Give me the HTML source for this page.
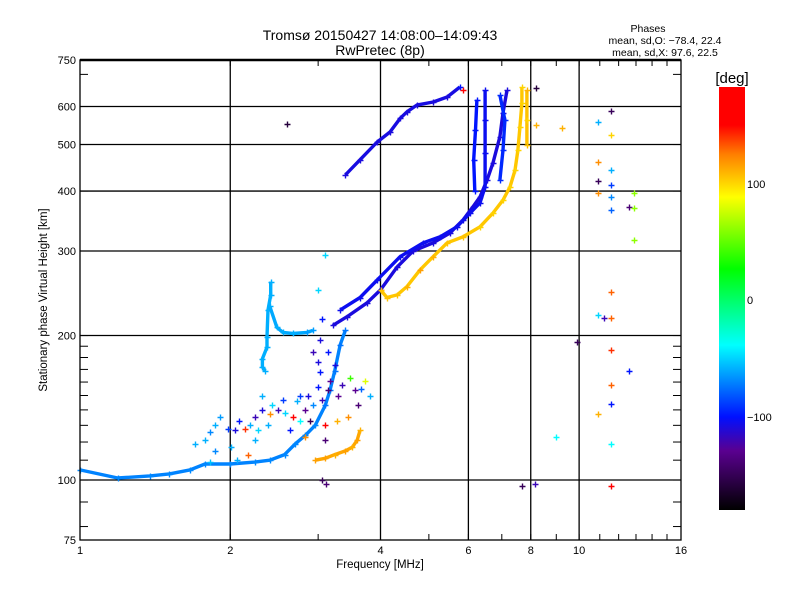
<!DOCTYPE html>
<html><head><meta charset="utf-8"><style>
body{margin:0;background:#fff;}
svg text{font-family:"Liberation Sans",sans-serif;fill:#000;}
</style></head><body>
<svg id="chart" width="800" height="600" viewBox="0 0 800 600" xmlns="http://www.w3.org/2000/svg">
<defs>
<linearGradient id="cbg" x1="0" y1="1" x2="0" y2="0">
<stop offset="0" stop-color="#000000"/>
<stop offset="0.14" stop-color="#5a0090"/>
<stop offset="0.22" stop-color="#0010ff"/>
<stop offset="0.30" stop-color="#0080ff"/>
<stop offset="0.39" stop-color="#00ffff"/>
<stop offset="0.48" stop-color="#00ff80"/>
<stop offset="0.57" stop-color="#00ff00"/>
<stop offset="0.74" stop-color="#ffff00"/>
<stop offset="0.84" stop-color="#ff8000"/>
<stop offset="0.91" stop-color="#ff0000"/>
<stop offset="1" stop-color="#ff0000"/>
</linearGradient>
</defs>
<rect width="800" height="600" fill="#fff"/>
<text x="380" y="40" font-size="14" text-anchor="middle">Tromsø 20150427 14:08:00–14:09:43</text>
<text x="380" y="55" font-size="14" text-anchor="middle">RwPretec (8p)</text>
<g font-size="10.5" text-anchor="middle">
<text x="648" y="32">Phases</text>
<text x="665" y="44">mean, sd,O: −78.4, 22.4</text>
<text x="665" y="56">mean, sd,X:  97.6, 22.5</text>
</g>
<g id="grid"></g>
<g id="marks"></g>
<g id="axes"></g>
<text x="380" y="568" font-size="11.5" text-anchor="middle">Frequency [MHz]</text>
<text transform="translate(47,300) rotate(-90)" font-size="11.5" text-anchor="middle">Stationary phase Virtual Height [km]</text>
<rect x="719" y="87" width="26" height="423" fill="url(#cbg)"/>
<text x="732" y="83" font-size="15" text-anchor="middle">[deg]</text>
<g font-size="11">
<text x="747" y="188">100</text>
<text x="747" y="304">0</text>
<text x="747" y="421">−100</text>
</g>
</svg>
<script>
const xTickVals=[1,2,4,6,8,10,16];
const xTickLabels=["1","2","4","6","8","10","16"];
const yTickVals=[75,100,200,300,400,500,600,750];
const yTickLabels=["75","100","200","300","400","500","600","750"];
const xGrid=[2,4,6,8,10];
const yGrid=[100,200,300,400,500,600];
// traces: [freq MHz, height km, phase deg]
const traceA=[[1.00,105,-70],[1.19,101,-70],[1.38,102,-70],[1.51,103,-70],[1.66,105,-70],[1.78,108,-70],[2.0,108,-70],[2.24,109,-70],[2.40,110,-70],[2.57,113,-70],[2.70,119,-70],[2.83,124,-70],[2.96,130,-70],[3.10,143,-75],[3.17,154,-75],[3.24,169,-75],[3.32,191,-75],[3.40,205,-75]];
const traceHorseshoeL=[[2.41,259,-60],[2.41,243,-60],[2.38,226,-60],[2.37,199,-60],[2.37,189,-60],[2.32,179,-60],[2.32,172,-60],[2.35,169,-60]];
const traceHorseshoeR=[[2.40,230,-60],[2.48,208,-60],[2.55,203,-60],[2.67,202,-60],[2.85,203,-65],[2.93,205,-65]];
const traceB=[[3.21,210,-110],[3.43,219,-110],[3.76,234,-110],[4.00,249,-110],[4.32,278,-110],[4.65,300,-110],[5.10,312,-110],[5.51,327,-110],[5.85,348,-110],[6.13,371,-110],[6.33,389,-110],[6.54,422,-110],[6.72,458,-110],[6.94,519,-110],[7.04,582,-110],[7.17,649,-110]];
const traceC=[[3.32,226,-105],[3.64,240,-105],[3.94,261,-105],[4.38,292,-105],[4.87,312,-105],[5.26,321,-105],[5.69,337,-105],[6.05,360,-105],[6.33,378,-105],[6.48,408,-105],[6.48,480,-105],[6.48,562,-105],[6.48,649,-105]];
const traceColA=[[6.18,400,-100],[6.15,465,-100],[6.2,536,-100],[6.24,620,-100]];
const traceColB=[[6.94,422,-95],[7.04,487,-95],[7.1,562,-95],[6.94,634,-95]];
const traceD=[[3.40,432,-110],[3.64,465,-110],[3.94,506,-110],[4.18,531,-110],[4.38,567,-110],[4.52,585,-110],[4.73,604,-110],[5.10,613,-110],[5.44,628,-110],[5.77,659,-100]];
const traceE=[[4.00,249,105],[4.12,240,105],[4.32,243,105],[4.52,253,110],[4.80,274,115],[5.10,292,110],[5.44,312,105],[5.85,321,105],[6.33,337,100],[6.72,360,100],[7.04,383,100],[7.27,408,100],[7.44,442,100],[7.54,487,100],[7.61,543,100],[7.68,610,100],[7.68,659,100]];
const traceEcol=[[7.86,649,110],[7.86,562,100],[7.86,500,105]];
const traceOrange=[[2.96,110,115],[3.10,111,115],[3.24,113,110],[3.40,115,115],[3.51,117,110],[3.59,121,115],[3.64,127,110]];
const scatterPts=[[1.70,119,-60],[1.78,121,-60],[1.82,126,-70],[1.86,130,-60],[1.91,135,-65],[1.98,128,-90],[2.04,127,-110],[2.08,133,-100],[2.19,130,-60],[2.24,135,-120],[2.27,127,-50],[2.32,140,-110],[2.38,130,-60],[2.42,143,-50],[2.49,140,-120],[2.55,147,-90],[2.57,138,-50],[2.63,127,-100],[2.67,135,150],[2.72,146,-60],[2.76,133,-40],[2.83,140,-130],[2.86,150,-110],[2.89,133,-150],[2.93,143,-70],[3.00,156,-100],[3.06,147,-120],[3.10,130,150],[3.14,154,-140],[3.17,161,-130],[3.24,174,-110],[3.29,150,-130],[3.35,158,-120],[3.47,163,40],[3.56,154,-130],[3.60,143,-140],[3.65,155,-80],[3.72,161,80],[3.81,150,-60],[3.44,135,120],[3.27,133,110],[2.76,150,-90],[2.40,137,120],[2.32,150,-60],[2.24,121,-60],[2.17,113,130],[2.01,117,-60],[1.86,115,-70],[1.82,109,-55],[2.06,110,-60],[3.00,176,-110],[3.03,196,-110],[3.06,216,-100],[3.00,249,-50],[3.10,294,-50],[2.93,185,-120],[3.03,168,-100],[3.14,185,-100],[3.10,121,-140],[3.06,100,-150],[2.14,128,140],[2.83,123,120],[9.26,541,110],[10.9,557,-60],[11.6,587,-150],[11.6,523,100],[10.9,460,120],[11.6,442,-60],[11.6,412,-90],[10.9,420,-150],[11.6,389,-70],[10.9,396,120],[12.9,396,60],[12.6,371,-140],[12.9,369,60],[11.6,366,-80],[12.9,316,60],[11.6,247,130],[10.9,221,-50],[11.2,218,-120],[11.6,218,130],[9.92,194,-150],[11.6,187,140],[12.6,169,-100],[11.6,158,130],[11.6,144,-100],[10.9,137,110],[9.0,123,-40],[11.6,119,-40],[11.6,97,160],[5.85,649,160],[8.21,655,-160],[8.21,550,110],[2.60,552,-160],[3.11,98,-140],[7.68,97,-150],[8.17,98,-120]];

const X0=80,X1=681,Y0=60,Y1=540;
function xs(f){return X0+(X1-X0)*Math.log(f)/Math.log(16);}
function ys(h){return Y1-(Y1-Y0)*Math.log10(h/75)/Math.log10(10);}
const cstops=[[0,[0,0,0]],[0.14,[90,0,144]],[0.22,[0,16,255]],[0.30,[0,128,255]],[0.39,[0,255,255]],[0.48,[0,255,128]],[0.57,[0,255,0]],[0.74,[255,255,0]],[0.84,[255,128,0]],[0.91,[255,0,0]],[1,[255,0,0]]];
function cmap(p){let t=(p+181)/363;t=Math.max(0,Math.min(1,t));
 for(let i=1;i<cstops.length;i++){if(t<=cstops[i][0]){const a=cstops[i-1],b=cstops[i];const u=(t-a[0])/(b[0]-a[0]||1);
 const c=a[1].map((v,k)=>Math.round(v+(b[1][k]-v)*u));return `rgb(${c[0]},${c[1]},${c[2]})`;}}return "rgb(255,0,0)";}
const NS="http://www.w3.org/2000/svg";
function mk(tag,attrs,parent){const e=document.createElementNS(NS,tag);for(const k in attrs)e.setAttribute(k,attrs[k]);parent.appendChild(e);return e;}
const grid=document.getElementById('grid'),marks=document.getElementById('marks'),axes=document.getElementById('axes');
xGrid.forEach(v=>{const l=mk('line',{x1:xs(v),x2:xs(v),y1:Y0,y2:Y1,stroke:'#000','stroke-width':1.3},grid);

});
yGrid.forEach(v=>{const l=mk('line',{x1:X0,x2:X1,y1:ys(v),y2:ys(v),stroke:'#000','stroke-width':1.3},grid);

});
function drawTrace(arr,name){
 const pts=arr.map(p=>xs(p[0]).toFixed(1)+','+ys(p[1]).toFixed(1)).join(' ');
 const avg=arr.reduce((s,p)=>s+p[2],0)/arr.length;
 const pl=mk('polyline',{points:pts,fill:'none',stroke:cmap(avg),'stroke-width':3.4,'stroke-linejoin':'round'},marks);
 
 
 arr.forEach(p=>drawPlus(p,name+'-point'));
}
function drawPlus(p,name){
 const x=Math.round(xs(p[0]))+0.5,y=Math.round(ys(p[1]))+0.5,c=cmap(p[2]);
 const g=mk('path',{d:`M${x-3},${y}H${x+3}M${x},${y-3}V${y+3}`,stroke:c,'stroke-width':1.4,fill:'none'},marks);
 
 
}
drawTrace(traceA,'trace-low-cyan');
drawTrace(traceHorseshoeL,'trace-cusp-left');
drawTrace(traceHorseshoeR,'trace-cusp-right');
drawTrace(traceD,'trace-upper-blue');
drawTrace(traceB,'trace-o-mode');
drawTrace(traceC,'trace-o-mode-2');
drawTrace(traceColA,'trace-column-a');
drawTrace(traceColB,'trace-column-b');
drawTrace(traceE,'trace-x-mode');
drawTrace(traceEcol,'trace-x-column');
drawTrace(traceOrange,'trace-orange-low');
scatterPts.forEach(p=>drawPlus(p,'scatter-point'));
const fr=mk('rect',{x:X0,y:Y0,width:X1-X0,height:Y1-Y0,fill:'none',stroke:'#000','stroke-width':1.3},axes);


const tp=mk('line',{x1:X0,x2:X1,y1:Y0,y2:Y0,stroke:'#000','stroke-width':2.5},axes);


const minorX=[];for(let v=2;v<=16;v++)minorX.push(v);
minorX.forEach(v=>{const x=xs(v);
 const a=mk('line',{x1:x,x2:x,y1:Y0,y2:Y0+6,stroke:'#000'},axes);
 
 
 const b=mk('line',{x1:x,x2:x,y1:Y1,y2:Y1-6,stroke:'#000'},axes);
 
 });
const minorY=[80,90,100,110,120,130,140,150,160,170,180,190,200,300,400,500,600,700];
minorY.forEach(v=>{const y=ys(v);
 const a=mk('line',{x1:X0,x2:X0+8,y1:y,y2:y,stroke:'#000'},axes);
 
 
 const b=mk('line',{x1:X1,x2:X1-8,y1:y,y2:y,stroke:'#000'},axes);
 
 });
xTickVals.forEach((v,i)=>{const t=mk('text',{x:xs(v),y:Y1+14,'font-size':11,'text-anchor':'middle'},axes);t.textContent=xTickLabels[i];
 
 });
yTickVals.forEach((v,i)=>{const t=mk('text',{x:X0-4,y:ys(v)+4,'font-size':11,'text-anchor':'end'},axes);t.textContent=yTickLabels[i];
 
 });
</script>
</body></html>
